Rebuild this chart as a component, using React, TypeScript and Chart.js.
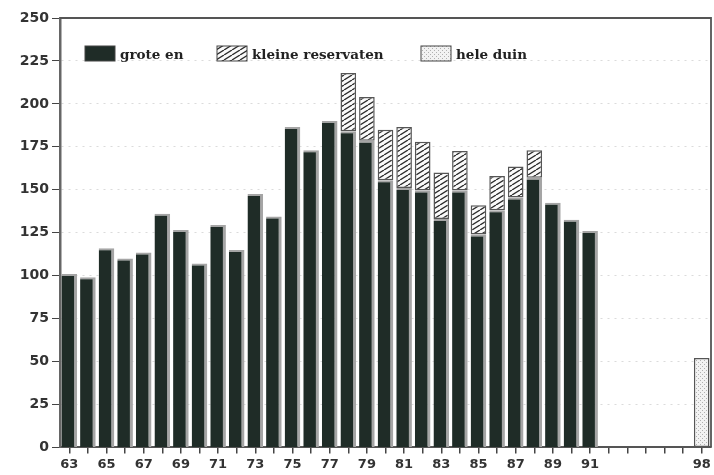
import React, { useEffect, useRef } from 'react';
import { Chart, registerables, Plugin } from 'chart.js';

Chart.register(...registerables);

const years = [
  '63', '64', '65', '66', '67', '68', '69', '70', '71', '72', '73', '74', '75', '76', '77',
  '78', '79', '80', '81', '82', '83', '84', '85', '86', '87', '88', '89', '90', '91',
  '92', '93', '94', '95', '96', '98',
];
const shownYears = ['63', '65', '67', '69', '71', '73', '75', '77', '79', '81', '83', '85', '87', '89', '91', '98'];

const groteEn = [
  101, 99, 116, 110, 113.5, 136, 126.5, 107, 129.5, 115, 147.5, 134.5, 186.5, 173, 190,
  184, 178.5, 155.5, 151, 149.5, 133, 149.5, 124, 138, 145.5, 157, 142.5, 132.5, 126,
  null, null, null, null, null, null,
];
const kleineReservaten = [
  null, null, null, null, null, null, null, null, null, null, null, null, null, null, null,
  34, 25.5, 29.5, 35.5, 28.5, 27, 23, 17, 20, 18, 16, null, null, null,
  null, null, null, null, null, null,
];
const heleDuin = [
  null, null, null, null, null, null, null, null, null, null, null, null, null, null, null,
  null, null, null, null, null, null, null, null, null, null, null, null, null, null,
  null, null, null, null, null, 52,
];
const yTicks = [0, 25, 50, 75, 100, 125, 150, 175, 200, 225, 250];

const DARK = '#1f2c27';

// diagonal hatch, tileable: lines from (x0,h) to (x0+w,0)
function hatchPattern(): CanvasPattern | string {
  const w = 8;
  const h = 5;
  const c = document.createElement('canvas');
  c.width = w;
  c.height = h;
  const g = c.getContext('2d');
  if (!g) return '#999';
  g.fillStyle = '#fafafa';
  g.fillRect(0, 0, w, h);
  g.strokeStyle = '#2a2a2a';
  g.lineWidth = 1.3;
  g.beginPath();
  [-w, 0, w].forEach((x0) => {
    g.moveTo(x0, h);
    g.lineTo(x0 + w, 0);
  });
  g.stroke();
  return g.createPattern(c, 'repeat') || '#999';
}

function dotPattern(): CanvasPattern | string {
  const c = document.createElement('canvas');
  c.width = 4;
  c.height = 4;
  const g = c.getContext('2d');
  if (!g) return '#ddd';
  g.fillStyle = '#f2f2f2';
  g.fillRect(0, 0, 4, 4);
  g.fillStyle = '#b0b0b0';
  g.fillRect(0, 0, 1, 1);
  g.fillRect(2, 2, 1, 1);
  return g.createPattern(c, 'repeat') || '#ddd';
}

const frameAndLegend: Plugin<'bar'> = {
  id: 'frameAndLegend',
  afterDraw(chart) {
    const { ctx, chartArea: a } = chart;
    ctx.save();
    ctx.strokeStyle = '#555';
    ctx.lineWidth = 1.8;
    ctx.beginPath();
    ctx.moveTo(a.left, a.top);
    ctx.lineTo(a.right, a.top);
    ctx.lineTo(a.right, a.bottom);
    ctx.stroke();

    const items = [
      { x: 85, text: 'grote en', fill: DARK as string | CanvasPattern },
      { x: 217, text: 'kleine reservaten', fill: hatchPattern() },
      { x: 421, text: 'hele duin', fill: dotPattern() },
    ];
    const y = 46;
    ctx.font = 'bold 13.5px "DejaVu Serif"';
    ctx.textBaseline = 'middle';
    items.forEach((it) => {
      ctx.fillStyle = it.fill;
      ctx.fillRect(it.x, y, 30, 15);
      ctx.strokeStyle = '#444';
      ctx.lineWidth = 1;
      ctx.strokeRect(it.x, y, 30, 15);
      ctx.fillStyle = '#222';
      ctx.fillText(it.text, it.x + 35, y + 9);
    });
    ctx.restore();
  },
};

const App: React.FC = () => {
  const canvasRef = useRef<HTMLCanvasElement | null>(null);

  useEffect(() => {
    if (!canvasRef.current) return;
    const barStyle = {
      barPercentage: 0.84,
      categoryPercentage: 1,
      borderColor: '#a5a5a5',
      borderWidth: { top: 2, right: 3, left: 0, bottom: 0 },
      borderSkipped: false as const,
    };
    const chart = new Chart(canvasRef.current, {
      type: 'bar',
      data: {
        labels: years,
        datasets: [
          { label: 'grote en', data: groteEn, backgroundColor: DARK, ...barStyle },
          { label: 'kleine reservaten', data: kleineReservaten, backgroundColor: hatchPattern(), ...barStyle, borderColor: '#555', borderWidth: 1.5 },
          { label: 'hele duin', data: heleDuin, backgroundColor: dotPattern(), ...barStyle, borderColor: '#555', borderWidth: 1.5 },
        ],
      },
      options: {
        animation: false,
        responsive: true,
        maintainAspectRatio: false,
        layout: { padding: { top: 18, right: 3, left: 0, bottom: 0 } },
        plugins: { legend: { display: false }, tooltip: { enabled: false } },
        scales: {
          x: {
            stacked: true,
            grid: { display: true, drawOnChartArea: false, offset: false, tickLength: 6, color: '#444', lineWidth: 1.5 },
            border: { display: true, color: '#555', width: 2 },
            ticks: {
              autoSkip: false,
              maxRotation: 0,
              padding: 3,
              color: '#333',
              font: { family: '"DejaVu Sans"', weight: 'bold', size: 13 },
              callback: (_v, i) => (shownYears.includes(years[i]) ? years[i] : ''),
            },
          },
          y: {
            stacked: true,
            min: 0,
            max: 250,
            afterFit: (s) => { s.width = 60; },
            afterBuildTicks: (s) => { s.ticks = yTicks.map((v) => ({ value: v })); },
            grid: {
              color: 'rgba(0,0,0,0.14)',
              tickLength: 8,
              tickColor: '#444',
              lineWidth: 1,
              tickBorderDash: [],
            },
            border: { display: true, color: '#666', width: 2.5, dash: [2, 5] },
            ticks: {
              padding: 3,
              color: '#333',
              font: { family: '"DejaVu Sans"', weight: 'bold', size: 14 },
            },
          },
        },
      },
      plugins: [frameAndLegend],
    });
    return () => chart.destroy();
  }, []);

  return (
    <div style={{ position: 'absolute', left: 0, top: 0, width: 714, height: 475, background: '#fff' }}>
      <canvas ref={canvasRef} />
    </div>
  );
};

export default App;
